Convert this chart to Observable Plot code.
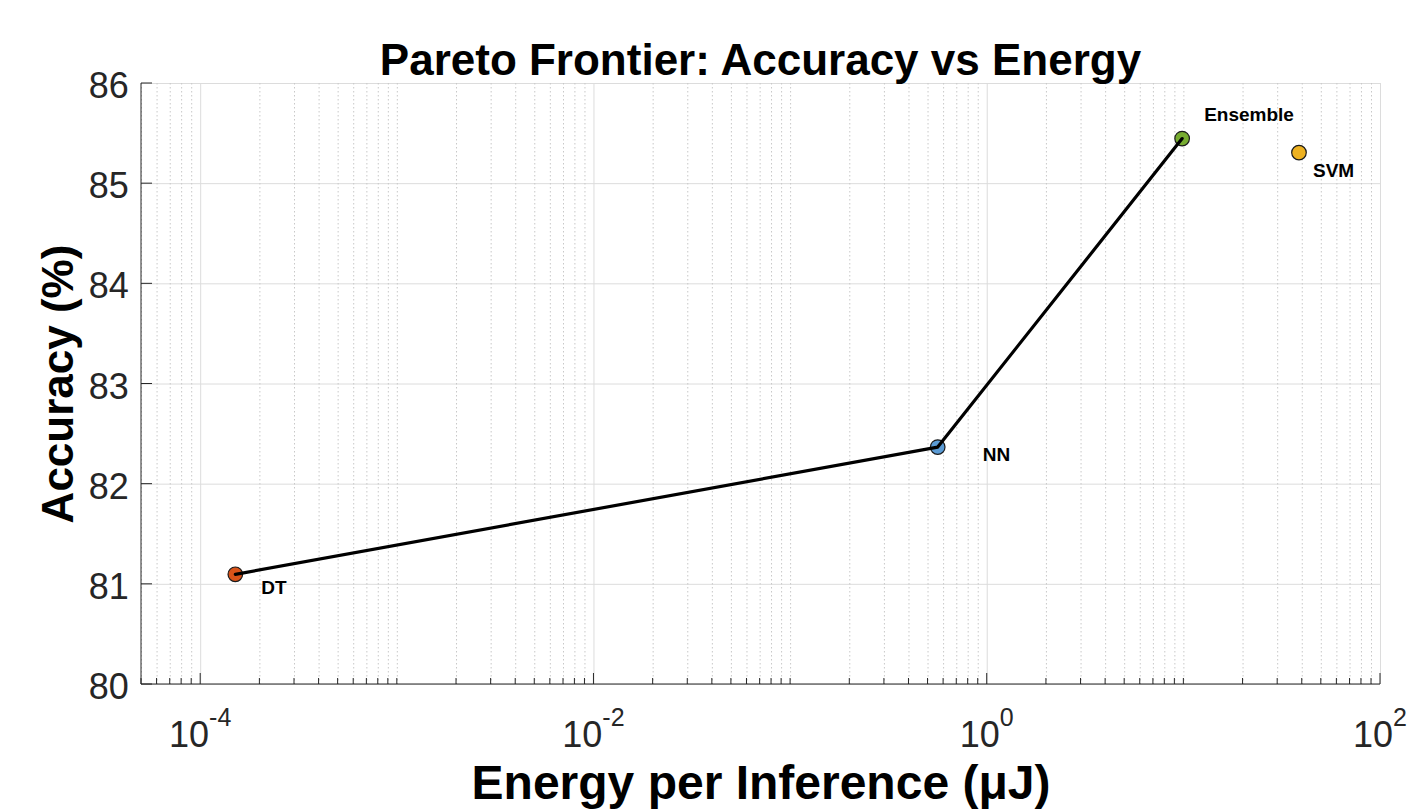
<!DOCTYPE html>
<html><head><meta charset="utf-8">
<script src="https://cdn.jsdelivr.net/npm/d3@7"></script>
<script src="https://cdn.jsdelivr.net/npm/@observablehq/plot@0.6"></script>
<style>
body{margin:0;background:#fff;font-family:"Liberation Sans",Arial,sans-serif;}
#wrap{position:relative;width:1411px;height:810px;overflow:hidden;}
#title{position:absolute;left:141px;width:1239px;top:36px;text-align:center;font-weight:bold;font-size:44px;line-height:48px;color:#000;z-index:2;}
#chart{position:absolute;left:0;top:66px;}
</style></head><body>
<div id="wrap"><div id="title">Pareto Frontier: Accuracy vs Energy</div><div id="chart"></div></div>
<script>
// ---- data ----
const models = ["DT", "NN", "Ensemble", "SVM"];
const energy = [1.5e-4, 0.56, 9.8, 38.5];          // µJ per inference
const accuracy = [81.10, 82.37, 85.45, 85.31];     // %
const colors = ["#D95319", "#5A9BD5", "#77AC30", "#EDB120"];
const frontierModels = ["DT", "NN", "Ensemble"];
const yTicks = [80, 81, 82, 83, 84, 85, 86];
const xMajorTicks = [1e-4, 1e-2, 1e0, 1e2];
const xTickLabels = ["-4", "-2", "0", "2"];         // exponents of 10
const xDomain = [5e-5, 100];
const yDomain = [80, 86];

const rows = models.map((m, i) => ({model: m, energy: energy[i], accuracy: accuracy[i], color: colors[i]}));
const frontier = frontierModels.map(m => rows.find(r => r.model === m));
const xAllTicks = d3.scaleLog().domain(xDomain).ticks().filter(v => v >= xDomain[0] && v <= xDomain[1] * 1.0001);
const isMajor = v => xMajorTicks.some(t => Math.abs(Math.log10(v) - Math.log10(t)) < 1e-6);
const xMinorTicks = xAllTicks.filter(v => !isMajor(v));

const axisColor = "#262626";

function axesMark(index, scales, values, dimensions) {
  const {x} = scales;
  const {width, height, marginLeft, marginRight, marginTop, marginBottom} = dimensions;
  const x0 = marginLeft, x1 = width - marginRight, yb = height - marginBottom, yt = marginTop;
  const g = d3.create("svg:g");
  const lines = g.append("g").attr("fill", "none").attr("stroke", axisColor).attr("stroke-width", 1);
  lines.append("path").attr("d", `M${x0},${yt}V${yb}H${x1}`);
  // y ticks (inward)
  for (const v of yTicks) {
    const py = scales.y(v);
    lines.append("path").attr("d", `M${x0},${py}h11`);
  }
  // x ticks (inward)
  for (const v of xMinorTicks) lines.append("path").attr("d", `M${x(v)},${yb}v-6`);
  for (const v of xMajorTicks) lines.append("path").attr("d", `M${x(v)},${yb}v-11`);
  // x tick labels with superscripts
  const lab = g.append("g").attr("fill", axisColor).attr("text-anchor", "middle")
    .attr("font-family", "Liberation Sans, Arial, sans-serif");
  xMajorTicks.forEach((v, i) => {
    const t = lab.append("text").attr("x", x(v)).attr("y", yb + 63).attr("font-size", 36);
    t.append("tspan").text("10");
    t.append("tspan").attr("font-size", 25).attr("dy", -21).text(xTickLabels[i]);
  });
  return g.node();
}

const labelStyle = {x: "energy", y: "accuracy", text: "model", fontSize: 19, fontWeight: "bold", textAnchor: "start", fill: "#000"};

const chart = Plot.plot({
  width: 1411,
  height: 744,
  marginTop: 17,
  marginBottom: 126,
  marginLeft: 141,
  marginRight: 31,
  style: {fontFamily: "Liberation Sans, Arial, sans-serif", overflow: "visible", background: "transparent"},
  x: {type: "log", domain: xDomain, axis: null},
  y: {domain: yDomain},
  color: {type: "identity"},
  marks: [
    Plot.gridY(yTicks, {stroke: "#dcdcdc", strokeOpacity: 1}),
    Plot.gridX(xMinorTicks, {stroke: "#c8c8c8", strokeOpacity: 1, strokeDasharray: "1.5,2.5"}),
    Plot.gridX(xMajorTicks, {stroke: "#dcdcdc", strokeOpacity: 1}),
    axesMark,
    Plot.axisY({ticks: yTicks, tickSize: 0, tickPadding: 12.7, fontSize: 36, color: axisColor, label: null, dy: 3, tickFormat: d => String(d)}),
    Plot.dot(rows, {x: "energy", y: "accuracy", r: 7.3, fill: "color", stroke: "#1a1a1a", strokeWidth: 1.2}),
    Plot.line(frontier, {x: "energy", y: "accuracy", stroke: "#000", strokeWidth: 3.2}),
    Plot.text(rows, {...labelStyle, filter: d => d.model === "DT", dx: 26, dy: 14}),
    Plot.text(rows, {...labelStyle, filter: d => d.model === "NN", dx: 45, dy: 8}),
    Plot.text(rows, {...labelStyle, filter: d => d.model === "Ensemble", dx: 22, dy: -24}),
    Plot.text(rows, {...labelStyle, filter: d => d.model === "SVM", dx: 14, dy: 18}),
    Plot.text(["Energy per Inference (μJ)"], {text: d => d, frameAnchor: "bottom", textAnchor: "middle", lineAnchor: "middle", dy: 99, fontSize: 48, fontWeight: "bold", fill: "#000"}),
    Plot.text(["Accuracy (%)"], {text: d => d, frameAnchor: "left", textAnchor: "middle", lineAnchor: "middle", rotate: -90, dx: -83, fontSize: 44, fontWeight: "bold", fill: "#000"})
  ]
});
document.getElementById("chart").appendChild(chart);
</script>
</body></html>
